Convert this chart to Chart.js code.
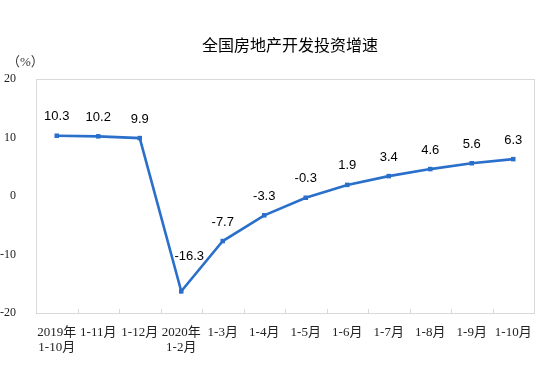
<!DOCTYPE html>
<html>
<head>
<meta charset="utf-8">
<script src="https://cdn.jsdelivr.net/npm/chart.js@4/dist/chart.umd.min.js"></script>
<style>
  html, body { margin: 0; padding: 0; background: #fff; }
  #wrap { width: 560px; height: 379px; }
</style>
</head>
<body>
<div id="wrap"><canvas id="c" width="560" height="379"></canvas></div>
<script>
const title = '全国房地产开发投资增速';
const unitLabel = '（%）';
const categories = [
    ['2019年', '1-10月'], '1-11月', '1-12月', ['2020年', '1-2月'], '1-3月', '1-4月',
    '1-5月', '1-6月', '1-7月', '1-8月', '1-9月', '1-10月'
];
const growth = [10.3, 10.2, 9.9, -16.3, -7.7, -3.3, -0.3, 1.9, 3.4, 4.6, 5.6, 6.3];
const yTicks = [-20, -10, 0, 10, 20];

const blue = '#2a6fc9';
const frame = '#d9d9d9';
const serif = '"Liberation Serif", "Times New Roman", "Noto Sans CJK SC", serif';
const sans = '"Liberation Sans", Arial, "Noto Sans CJK SC", sans-serif';

// title, unit, plot frame, inner tick marks and value labels
const decor = {
    id: 'decor',
    afterDraw(chart) {
        const ctx = chart.ctx, a = chart.chartArea, x = chart.scales.x;
        ctx.save();
        ctx.fillStyle = '#000';
        ctx.font = '16px "Noto Sans CJK SC", sans-serif';
        ctx.textAlign = 'center';
        ctx.textBaseline = 'middle';
        ctx.fillText(title, 290, 45);

        ctx.font = '13px ' + serif;
        ctx.fillStyle = '#333';
        ctx.textAlign = 'left';
        ctx.fillText(unitLabel, 7, 63);

        ctx.strokeStyle = frame;
        ctx.lineWidth = 1;
        ctx.strokeRect(Math.round(a.left) + 0.5, Math.round(a.top) + 0.5,
            Math.round(a.right - a.left), Math.round(a.bottom - a.top));

        ctx.beginPath();
        for (let i = 1; i < categories.length; i++) {
            const bx = Math.round((x.getPixelForValue(i - 1) + x.getPixelForValue(i)) / 2) + 0.5;
            ctx.moveTo(bx, a.bottom);
            ctx.lineTo(bx, a.bottom - 4);
        }
        ctx.stroke();

        const meta = chart.getDatasetMeta(0);
        const low = Math.min(...growth);
        ctx.fillStyle = '#000';
        ctx.font = '13px ' + sans;
        ctx.textAlign = 'center';
        meta.data.forEach((pt, i) => {
            const v = growth[i];
            let dx = 0, dy = -19;
            if (v === low) { dx = 8; dy = -35; }
            ctx.fillText(v.toFixed(1), pt.x + dx, pt.y + dy);
        });
        ctx.restore();
    }
};

new Chart(document.getElementById('c'), {
    type: 'line',
    data: {
        labels: categories,
        datasets: [{
            data: growth,
            borderColor: blue,
            backgroundColor: blue,
            borderWidth: 2.6,
            pointStyle: 'rect',
            pointRadius: 3.2,
            pointBorderWidth: 0,
            tension: 0,
        }],
    },
    options: {
        responsive: false,
        animation: false,
        layout: { padding: { top: 79, left: 0, right: 26, bottom: 0 } },
        plugins: { legend: { display: false }, tooltip: { enabled: false }, title: { display: false } },
        scales: {
            x: {
                offset: true,
                grid: { display: false },
                border: { display: true, color: frame },
                ticks: {
                    maxRotation: 0, autoSkip: false, padding: 4,
                    color: '#222', font: { family: serif, size: 13, lineHeight: 1.15 },
                },
                afterFit: s => { s.height = 379 - 313; },
            },
            y: {
                min: -20, max: 20,
                afterBuildTicks: s => { s.ticks = yTicks.map(v => ({ value: v })); },
                grid: { display: false },
                border: { display: true, color: frame },
                ticks: { padding: 12, color: '#222', font: { family: serif, size: 12 } },
                afterFit: s => { s.width = 36; },
            },
        },
    },
    plugins: [decor],
});
</script>
</body>
</html>
